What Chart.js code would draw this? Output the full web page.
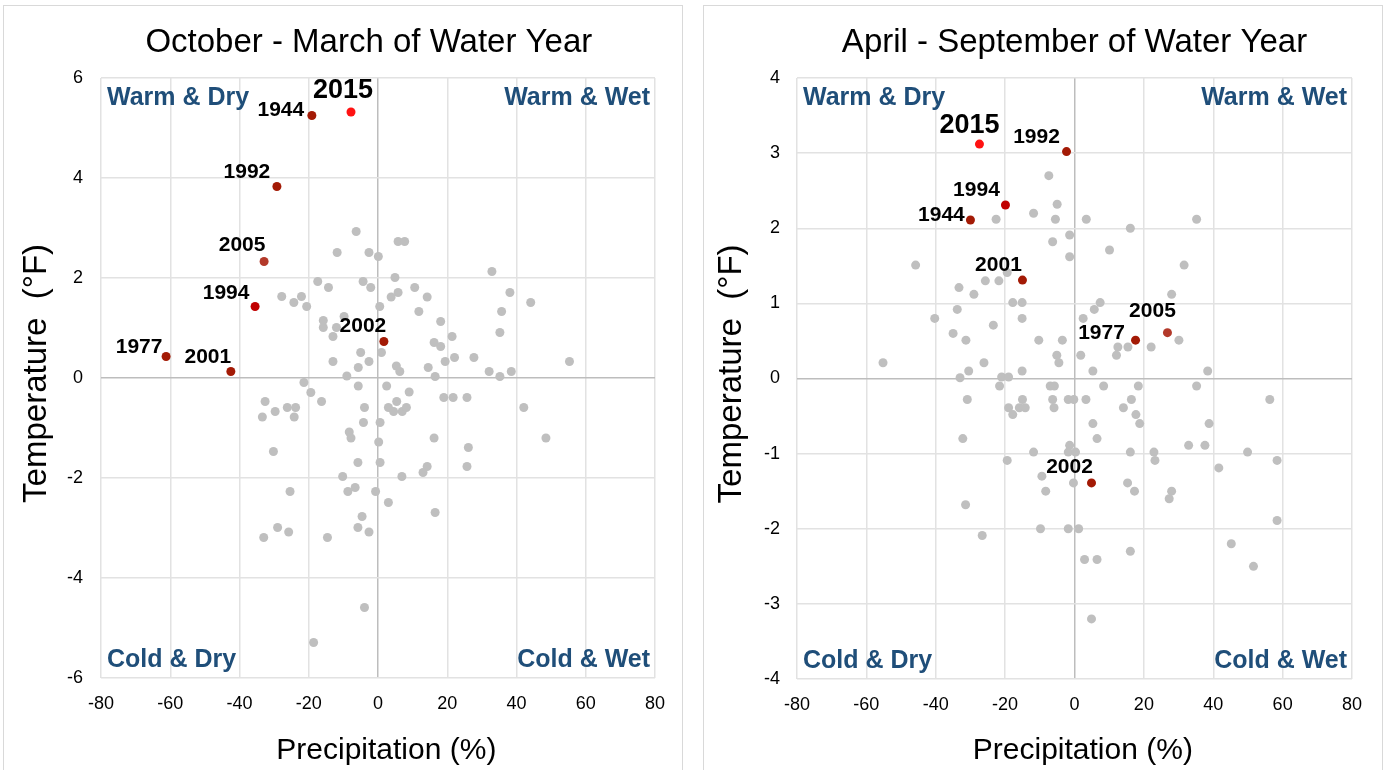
<!DOCTYPE html>
<html>
<head>
<meta charset="utf-8">
<script src="https://cdn.jsdelivr.net/npm/chart.js@4.4.0/dist/chart.umd.min.js"></script>
<style>
body { margin:0; background:#fff; width:1383px; height:770px; overflow:hidden; position:relative; }
.panel { position:absolute; top:5px; height:790px; border:1px solid #d9d9d9; box-sizing:border-box; }
#p1 { left:3px; width:680px; }
#p2 { left:703px; width:680px; }
canvas { position:absolute; left:0; top:0; }
</style>
</head>
<body>
<div class="panel" id="p1"><canvas id="chartOct" width="678" height="764"></canvas></div>
<div class="panel" id="p2"><canvas id="chartApr" width="678" height="764"></canvas></div>
<script>
// October - March: highlighted years
const octYears = ['2015', '1944', '1992', '2005', '1994', '1977', '2001', '2002'];
const octHiPrecip = [-7.8, -19.1, -29.2, -32.9, -35.5, -61.2, -42.5, 1.7];
const octHiTemp = [5.32, 5.25, 3.83, 2.33, 1.43, 0.43, 0.13, 0.73];

// October - March: all other years
const octPrecip = [-6.3, -11.8, -2.6, 0.1, -17.4, -14.3, -4.3, -2.1, -27.8, -24.3, -22.1, -20.6, 0.5, -15.8, -15.8, -12, -9.8, -13, -5, 1,
  -13, -2.6, -5.7, -9, -21.4, -5.7, 2.5, 5.8, 7.7, 32.9, 4.9, 10.6, 5.8, 3.8, 14.2, 38.1, 44.1, 11.8, 35.7, 18.1,
  21.4, 35.2, 16.2, 18.1, 19.4, 22.1, 27.7, 5.3, 6.3, 14.5, 16.5, 32.1, 35.2, 38.5, 55.3, -19.4, -16.3, -32.6, -29.7, -26.2,
  -23.8, -33.4, -24.2, -3.9, 3, -4.2, 0.6, -8.3, -7.8, 0.2, -30.2, -5.8, 0.6, -10.2, -6.6, -8.7, -0.7, 3, -25.4, -4.6,
  -5.8, -2.6, -29, -25.8, -33, -14.6, -3.9, -18.6, 9, 19, 21.7, 25.7, 5.4, 4.5, 7, 8.2, 42.1, 16.2, 48.5, 26.1,
  14.2, 13, 25.7, 6.9, 16.5];
const octTemp = [2.93, 2.51, 2.51, 2.43, 1.93, 1.81, 1.93, 1.81, 1.63, 1.51, 1.63, 1.43, 1.43, 1.15, 1.01, 1.01, 1.23, 0.83, 0.51, 0.51,
  0.33, 0.33, 0.21, 0.04, -0.09, -0.16, -0.16, 2.73, 2.73, 2.13, 2.01, 1.81, 1.71, 1.62, 1.62, 1.71, 1.51, 1.33, 1.33, 1.13,
  0.83, 0.91, 0.71, 0.63, 0.33, 0.41, 0.41, 0.24, 0.13, 0.21, 0.03, 0.13, 0.03, 0.13, 0.33, -0.29, -0.47, -0.47, -0.67, -0.59,
  -0.59, -0.78, -0.78, -0.59, -0.59, -0.89, -0.89, -1.08, -1.2, -1.28, -1.47, -1.69, -1.69, -1.97, -2.19, -2.27, -2.27, -2.49, -2.27, -2.77,
  -2.99, -3.08, -2.99, -3.08, -3.19, -3.19, -4.59, -5.29, -0.28, -0.39, -0.39, -0.39, -0.47, -0.67, -0.67, -0.59, -0.59, -1.2, -1.2, -1.39,
  -1.77, -1.89, -1.77, -1.97, -2.69];

// April - September: highlighted years
const aprYears = ['2015', '1992', '1994', '1944', '2001', '2005', '1977', '2002'];
const aprHiPrecip = [-27.4, -2.3, -19.9, -30, -15, 26.8, 17.6, 4.9];
const aprHiTemp = [3.12, 3.02, 2.31, 2.11, 1.31, 0.61, 0.51, -1.39];

// April - September: all other years
const aprPrecip = [-7.4, -5, -11.8, -5.5, -22.6, -1.4, -6.3, -1.4, -45.8, -33.3, -29, -25.7, -21.8, -19.4, -17.8, -15.1, -15.1, -33.8, -40.3, -23.4,
  -35, -31.3, -10.3, -3.5, 1.8, -5.1, -4.5, -55.2, -26.1, -30.5, -15.1, -33, -21, -19, -21.6, -7, -5.8,
  3.4, 16.1, 35.2, 10.1, 31.6, 28, 7.4, 5.7, 2.5, 30.1, 12.5, 15.4, 22.1, 12.1, 5.3, 38.4, 8.4, 18.4, 35.2,
  -30.9, -15, -19, -15.9, -14.2, -17.8, -6.3, -5.9, -1.8, -0.2, -32.2, -11.8, -1.4, -1.8, 0.3, -19.4, -9.4, -0.3, -8.3, -31.4,
  -9.8, -1.8, 1.2, -26.6, 3.3, 14.1, 16.4, 17.7, 18.8, 5.3, 6.5, 38.8, 56.3, 16.1, 22.9, 23.2, 32.9, 37.6, 49.9, 58.4,
  41.6, 15.3, 17.3, 28, 27.3, 58.4, 16.1, 2.9, 6.5, 45.2, 51.6, 4.9];
const aprTemp = [2.7, 2.32, 2.2, 2.12, 2.12, 1.91, 1.82, 1.62, 1.51, 1.21, 1.12, 1.3, 1.3, 1.41, 1.01, 1.01, 0.8, 0.92, 0.8, 0.71,
  0.6, 0.51, 0.51, 0.51, 0.31, 0.31, 0.21, 0.21, 0.21, 0.1, 0.1, 0.01, 0.02, 0.02, -0.1, -0.1, -0.1,
  2.12, 2.0, 2.12, 1.71, 1.51, 1.12, 1.01, 0.92, 0.8, 0.51, 0.42, 0.42, 0.42, 0.31, 0.1, 0.1, -0.1, -0.1, -0.1,
  -0.28, -0.28, -0.39, -0.39, -0.39, -0.48, -0.28, -0.39, -0.28, -0.28, -0.8, -0.98, -0.89, -0.98, -0.98, -1.09, -1.3, -1.39, -1.5, -1.68,
  -2.0, -2.0, -2.0, -2.09, -0.28, -0.39, -0.28, -0.48, -0.6, -0.6, -0.8, -0.6, -0.28, -0.98, -0.98, -1.09, -0.89, -0.89, -0.98, -1.09,
  -1.19, -1.39, -1.5, -1.5, -1.6, -1.89, -2.3, -2.41, -2.41, -2.2, -2.5, -3.2];

const xTicks = [-80, -60, -40, -20, 0, 20, 40, 60, 80];
const octTempTicks = [-6, -4, -2, 0, 2, 4, 6];
const aprTempTicks = [-4, -3, -2, -1, 0, 1, 2, 3, 4];
const quadrantNames = ['Warm & Dry', 'Warm & Wet', 'Cold & Dry', 'Cold & Wet'];

const FONT = '"Liberation Sans", Arial, sans-serif';
Chart.defaults.font.family = FONT;
Chart.defaults.color = '#000';

// label placement (offset of label centre from its point, in px)
const octLabelPos = {
  '2015': [-8, -21], '1944': [-31, -5], '1992': [-30, -14], '2005': [-22, -16],
  '1994': [-29, -13], '1977': [-27, -9], '2001': [-23, -14], '2002': [-21, -15]
};
const aprLabelPos = {
  '2015': [-10, -19], '1992': [-30, -14], '1994': [-29, -15], '1944': [-29, -5],
  '2001': [-24, -15], '2005': [-15, -21], '1977': [-34, -7], '2002': [-22, -16]
};

const hiColor = y => y === '2015' ? '#ff1212' : (y === '2005' ? '#b3392a' : (y === '1994' ? '#c00000' : '#a31a05'));

const quadrantPlugin = {
  id: 'quadrants',
  afterDatasetsDraw(chart) {
    const { ctx, chartArea: a } = chart;
    ctx.save();
    ctx.font = 'bold 25px ' + FONT;
    ctx.fillStyle = '#1f4e79';
    ctx.textBaseline = 'middle';
    ctx.textAlign = 'left';
    ctx.fillText(quadrantNames[0], a.left + 6, a.top + 20);
    ctx.fillText(quadrantNames[2], a.left + 6, a.bottom - 18);
    ctx.textAlign = 'right';
    ctx.fillText(quadrantNames[1], a.right - 5, a.top + 20);
    ctx.fillText(quadrantNames[3], a.right - 5, a.bottom - 18);
    ctx.restore();
  }
};

const yearLabelPlugin = {
  id: 'yearLabels',
  afterDatasetsDraw(chart, args, opts) {
    const { ctx } = chart;
    const meta = chart.getDatasetMeta(0);
    ctx.save();
    ctx.fillStyle = '#000';
    ctx.textAlign = 'center';
    ctx.textBaseline = 'middle';
    meta.data.forEach((pt, i) => {
      const year = opts.years[i];
      const off = opts.pos[year];
      ctx.font = (year === '2015' ? 'bold 27px ' : 'bold 21px ') + FONT;
      ctx.fillText(year, pt.x + off[0], pt.y + off[1]);
    });
    ctx.restore();
  }
};

function makeChart(id, cfg) {
  const hi = cfg.hiPrecip.map((x, i) => ({ x: x, y: cfg.hiTemp[i] }));
  const rest = cfg.precip.map((x, i) => ({ x: x, y: cfg.temp[i] }));
  const gridColor = c => (c.tick && c.tick.value === 0) ? '#bdbdbd' : '#e2e2e2';
  return new Chart(document.getElementById(id), {
    type: 'scatter',
    data: {
      datasets: [{
        data: hi,
        backgroundColor: cfg.years.map(hiColor),
        borderWidth: 0,
        pointRadius: 4.5
      }, {
        data: rest,
        backgroundColor: '#bfbfbf',
        borderWidth: 0,
        pointRadius: 4.5
      }]
    },
    options: {
      responsive: false,
      animation: false,
      events: [],
      layout: { padding: { left: 0, right: cfg.padRight, top: 0, bottom: 0 } },
      plugins: {
        legend: { display: false },
        tooltip: { enabled: false },
        title: {
          display: true,
          text: cfg.title,
          fullSize: false,
          font: { size: 33, weight: 'normal' },
          color: '#000',
          padding: { top: 17, bottom: 15.4 }
        },
        yearLabels: { years: cfg.years, pos: cfg.labelPos }
      },
      scales: {
        x: {
          type: 'linear',
          min: -80, max: 80,
          afterBuildTicks: s => { s.ticks = xTicks.map(v => ({ value: v })); },
          afterFit: s => { s.height = cfg.xHeight; },
          grid: { color: gridColor, lineWidth: 1.5, drawTicks: false },
          border: { display: false },
          ticks: { font: { size: 18 }, padding: 15, color: '#000' },
          title: { display: true, text: '  Precipitation (%)', font: { size: 30 }, color: '#000', padding: { top: 0, bottom: 1 } }
        },
        y: {
          type: 'linear',
          min: cfg.yTicks[0], max: cfg.yTicks[cfg.yTicks.length - 1],
          afterBuildTicks: s => { s.ticks = cfg.yTicks.map(v => ({ value: v })); },
          afterFit: s => { s.width = cfg.yWidth; },
          grid: { color: gridColor, lineWidth: 1.5, drawTicks: false },
          border: { display: false },
          ticks: { font: { size: 18 }, padding: cfg.yTickPad, color: '#000' },
          title: { display: true, text: ' Temperature  (°F)', font: { size: 33 }, color: '#000', padding: { top: cfg.yTitlePad, bottom: 0 } }
        }
      }
    },
    plugins: [quadrantPlugin, yearLabelPlugin]
  });
}

makeChart('chartOct', {
  title: 'October - March of Water Year  ',
  years: octYears, hiPrecip: octHiPrecip, hiTemp: octHiTemp,
  precip: octPrecip, temp: octTemp, yTicks: octTempTicks, labelPos: octLabelPos,
  padRight: 27, yWidth: 97, xHeight: 92, yTickPad: 18, yTitlePad: 13
});

makeChart('chartApr', {
  title: 'April - September of Water Year',
  years: aprYears, hiPrecip: aprHiPrecip, hiTemp: aprHiTemp,
  precip: aprPrecip, temp: aprTemp, yTicks: aprTempTicks, labelPos: aprLabelPos,
  padRight: 30, yWidth: 93, xHeight: 91, yTickPad: 17, yTitlePad: 8
});
</script>
</body>
</html>
